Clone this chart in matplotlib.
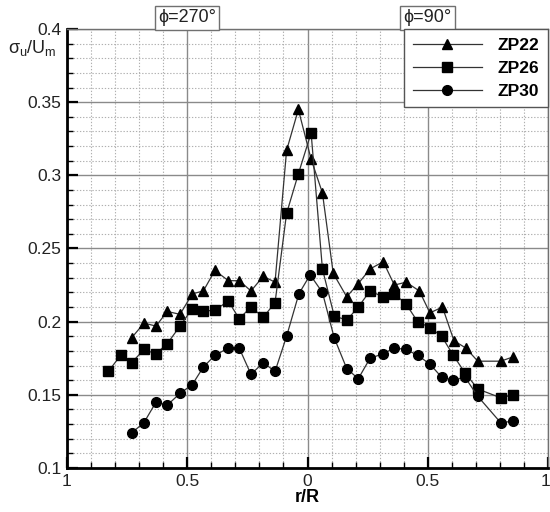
import numpy as np
import matplotlib
matplotlib.use('Agg')
import matplotlib.pyplot as plt
import matplotlib.transforms as mtransforms
from matplotlib.ticker import MultipleLocator, FixedLocator

plt.rcParams['font.family'] = ['Liberation Sans', 'DejaVu Sans']
plt.rcParams['mathtext.fontset'] = 'custom'
plt.rcParams['mathtext.rm'] = 'Liberation Sans'
plt.rcParams['mathtext.it'] = 'Liberation Sans'
plt.rcParams['mathtext.bf'] = 'Liberation Sans:bold'

# ZP22 (triangles)
x22 = [-0.731, -0.680, -0.630, -0.583, -0.530, -0.479, -0.433, -0.385, -0.329, -0.284,
       -0.235, -0.184, -0.135, -0.087, -0.038, 0.015, 0.062, 0.107, 0.163, 0.211,
       0.260, 0.315, 0.361, 0.410, 0.465, 0.509, 0.561, 0.609, 0.658, 0.708, 0.803, 0.856]
y22 = [0.189, 0.199, 0.197, 0.207, 0.205, 0.219, 0.221, 0.235, 0.228, 0.228,
       0.221, 0.231, 0.227, 0.317, 0.345, 0.311, 0.288, 0.233, 0.217, 0.226,
       0.236, 0.241, 0.225, 0.227, 0.221, 0.206, 0.210, 0.187, 0.182, 0.173, 0.173, 0.176]

# ZP26 (squares)
x26 = [-0.828, -0.777, -0.731, -0.680, -0.630, -0.583, -0.530, -0.479, -0.433, -0.385,
       -0.329, -0.284, -0.235, -0.184, -0.135, -0.087, -0.038, 0.015, 0.062, 0.111,
       0.163, 0.211, 0.260, 0.313, 0.361, 0.410, 0.458, 0.509, 0.558, 0.606, 0.655,
       0.708, 0.803, 0.856]
y26 = [0.166, 0.177, 0.172, 0.181, 0.178, 0.185, 0.197, 0.209, 0.207, 0.208,
       0.214, 0.202, 0.210, 0.203, 0.213, 0.274, 0.301, 0.329, 0.236, 0.204,
       0.201, 0.210, 0.221, 0.217, 0.219, 0.212, 0.200, 0.196, 0.190, 0.177, 0.165,
       0.154, 0.148, 0.150]

# ZP30 (circles)
x30 = [-0.731, -0.680, -0.630, -0.583, -0.530, -0.479, -0.433, -0.385, -0.329, -0.284,
       -0.235, -0.184, -0.135, -0.087, -0.036, 0.011, 0.062, 0.111, 0.163, 0.211,
       0.260, 0.313, 0.361, 0.410, 0.458, 0.509, 0.558, 0.606, 0.655, 0.708, 0.803, 0.856]
y30 = [0.124, 0.131, 0.145, 0.143, 0.151, 0.157, 0.169, 0.177, 0.182, 0.182,
       0.164, 0.172, 0.166, 0.190, 0.219, 0.232, 0.220, 0.189, 0.168, 0.161,
       0.175, 0.178, 0.182, 0.181, 0.177, 0.171, 0.162, 0.160, 0.162, 0.149, 0.131, 0.132]

xtick_pos = [-1, -0.5, 0, 0.5, 1]
xtick_lab = ['1', '0.5', '0', '0.5', '1']
ytick_pos = [0.1, 0.15, 0.2, 0.25, 0.3, 0.35, 0.4]
ytick_lab = ['0.1', '0.15', '0.2', '0.25', '0.3', '0.35', '0.4']

fig = plt.figure(figsize=(5.5, 5.12), dpi=100)
ax = fig.add_axes([0.1218, 0.0859, 0.8746, 0.8575])

ax.set_xlim(-1, 1)
ax.set_ylim(0.1, 0.4)
ax.xaxis.set_major_locator(FixedLocator(xtick_pos))
ax.set_xticklabels(xtick_lab)
ax.xaxis.set_minor_locator(MultipleLocator(0.1))
ax.set_yticks(ytick_pos)
ax.set_yticklabels(ytick_lab)
ax.yaxis.set_minor_locator(MultipleLocator(0.01))

ax.grid(which='major', color='#8a8a8a', lw=1.0, ls='-')
ax.grid(which='minor', color='#b0b0b0', lw=0.8, ls=(0, (1.2, 1.6)))
ax.set_axisbelow(True)

ax.tick_params(which='both', direction='in', colors='black', labelsize=12.5)
ax.tick_params(which='major', length=8, width=1.6, pad=4)
ax.tick_params(which='minor', length=4, width=1.0)
ax.tick_params(top=False, right=False)
ax.tick_params(axis='both', labelcolor='#222222')
for s in ['left', 'bottom']:
    ax.spines[s].set_linewidth(2)
    ax.spines[s].set_color('black')
for s in ['top', 'right']:
    ax.spines[s].set_linewidth(1)
    ax.spines[s].set_color('#707070')

# keep the last x label inside the canvas
lab = ax.get_xticklabels()[-1]
lab.set_transform(lab.get_transform() + mtransforms.ScaledTranslation(-3 / 100, 0, fig.dpi_scale_trans))

lc = '#333333'
ax.plot(x22, y22, color=lc, lw=0.9, marker='^', ms=7.5, mfc='black', mec='black', label='ZP22')
ax.plot(x26, y26, color=lc, lw=0.9, marker='s', ms=7, mfc='black', mec='black', label='ZP26')
ax.plot(x30, y30, color=lc, lw=0.9, marker='o', ms=7, mfc='black', mec='black', label='ZP30')

leg = ax.legend(loc='upper right', bbox_to_anchor=(1.0, 1.0), borderaxespad=0,
                frameon=True, fancybox=False, handlelength=4.0, numpoints=1,
                prop={'weight': 'bold', 'size': 12.5}, labelspacing=0.45,
                borderpad=0.5, handletextpad=0.9)
leg.get_frame().set_edgecolor('#555555')
leg.get_frame().set_linewidth(1)
leg.get_frame().set_alpha(1)

ax.set_xlabel('r/R', fontsize=13, fontweight='bold', labelpad=0)
ax.text(-0.073, 0.957, r'$\sigma_u$/U$_m$', transform=ax.transAxes, ha='center',
        va='center', fontsize=13, color='#222222')

tr = ax.get_xaxis_transform()
box = dict(boxstyle='square,pad=0.18', fc='white', ec='#707070', lw=1)
ax.text(-0.5, 1.006, '\u03d5=270\u00b0', transform=tr, ha='center', va='bottom',
        fontsize=13, bbox=box, color='#222222')
ax.text(0.5, 1.006, '\u03d5=90\u00b0', transform=tr, ha='center', va='bottom',
        fontsize=13, bbox=box, color='#222222')

fig.savefig('out.png', dpi=100)
